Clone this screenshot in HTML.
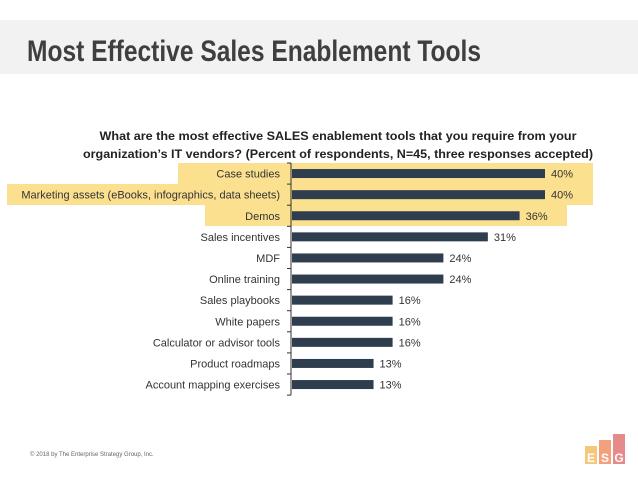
<!DOCTYPE html>
<html><head><meta charset="utf-8"><style>
body{margin:0;background:#fff;}
svg{display:block;font-family:"Liberation Sans",sans-serif;}
</style></head><body>
<svg id="c" width="638" height="479" viewBox="0 0 638 479" xmlns="http://www.w3.org/2000/svg">
<rect x="0" y="20" width="638" height="54" fill="#f2f2f2"/>
<text x="27" y="61" font-size="30" font-weight="bold" fill="#3f3f3f" textLength="454" lengthAdjust="spacingAndGlyphs">Most Effective Sales Enablement Tools</text>
<text x="338" y="140" font-size="12" font-weight="bold" fill="#222" text-anchor="middle" textLength="477" lengthAdjust="spacingAndGlyphs">What are the most effective SALES enablement tools that you require from your</text>
<text x="338" y="158" font-size="12" font-weight="bold" fill="#222" text-anchor="middle" textLength="510" lengthAdjust="spacingAndGlyphs">organization’s IT vendors? (Percent of respondents, N=45, three responses accepted)</text>
<rect x="178" y="163" width="415" height="21" fill="#fbe08f"/>
<rect x="7" y="184" width="586" height="21" fill="#fbe08f"/>
<rect x="205" y="205" width="362" height="21" fill="#fbe08f"/>
<g id="plot"></g>
<text x="30" y="456" font-size="6" fill="#666">© 2018 by The Enterprise Strategy Group, Inc.</text>
<g>
<rect x="585" y="446" width="12" height="18" fill="#f6c77a"/>
<rect x="599" y="440" width="12" height="24" fill="#f3a07c"/>
<rect x="613" y="434" width="12" height="30" fill="#e78a8a"/>
<text x="591" y="462" font-size="12" font-weight="bold" fill="#fff" text-anchor="middle">E</text>
<text x="605" y="462" font-size="12" font-weight="bold" fill="#fff" text-anchor="middle">S</text>
<text x="619" y="462" font-size="12" font-weight="bold" fill="#fff" text-anchor="middle">G</text>
</g>
</svg>
<script>
const categories=["Case studies","Marketing assets (eBooks, infographics, data sheets)","Demos","Sales incentives","MDF","Online training","Sales playbooks","White papers","Calculator or advisor tools","Product roadmaps","Account mapping exercises"];
const values=[40,40,36,31,24,24,16,16,16,13,13];
const valueLabels=["40%","40%","36%","31%","24%","24%","16%","16%","16%","13%","13%"];
const NS="http://www.w3.org/2000/svg";
const g=document.getElementById('plot');
const x0=291,pxPer=6.35,top0=163,rowH=21.1;
const xs=v=>x0+v*pxPer;
const yc=i=>top0+rowH*i+rowH/2;
function mk(t,a){const e=document.createElementNS(NS,t);for(const k in a)e.setAttribute(k,a[k]);g.appendChild(e);return e;}
const ax=mk('line',{x1:x0,x2:x0,y1:top0,y2:top0+rowH*categories.length,stroke:'#333','stroke-width':1});


for(let i=0;i<=categories.length;i++){const t=mk('line',{x1:x0-4,x2:x0,y1:top0+rowH*i,y2:top0+rowH*i,stroke:'#333','stroke-width':1});

}
categories.forEach((c,i)=>{
 const b=mk('rect',{x:x0+1,y:yc(i)-4.5,width:xs(values[i])-x0-1,height:9,fill:'#2f3e4e'});
 
 
 const l=mk('text',{x:x0-11,y:yc(i)+4,'font-size':11,fill:'#333','text-anchor':'end'});l.textContent=c;
 
 
 const v=mk('text',{x:xs(values[i])+6,y:yc(i)+4,'font-size':11,fill:'#333'});v.textContent=valueLabels[i];
 
 
});
</script>
</body></html>
